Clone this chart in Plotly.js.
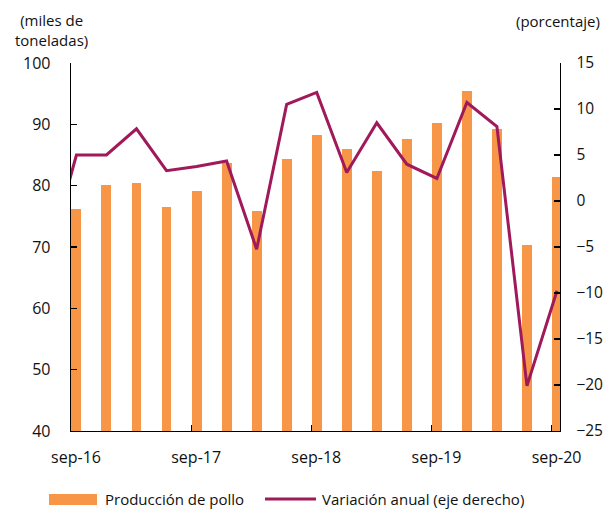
<!DOCTYPE html>
<html>
<head>
<meta charset="utf-8">
<script src="https://cdn.plot.ly/plotly-3.0.1.min.js"></script>
<style>html,body{margin:0;padding:0;background:#fff;}#chart{width:605px;height:512px;}</style>
</head>
<body>
<div id="chart"></div>
<script>
// Quarterly periods (jun-16 only feeds the line segment clipped at the left axis)
const periods = ['jun-16','sep-16','dic-16','mar-17','jun-17','sep-17','dic-17','mar-18','jun-18','sep-18','dic-18','mar-19','jun-19','sep-19','dic-19','mar-20','jun-20','sep-20'];
// Producción de pollo (miles de toneladas)
const produccion = [null, 76.2, 80.1, 80.4, 76.5, 79.1, 83.7, 75.9, 84.3, 88.3, 86.0, 82.4, 87.6, 90.2, 95.4, 89.2, 70.3, 81.4];
// Variación anual (porcentaje, eje derecho)
const variacion = [-6.9, 5.0, 5.0, 7.85, 3.3, 3.75, 4.35, -5.25, 10.5, 11.8, 3.1, 8.5, 4.0, 2.45, 10.7, 8.1, -20.1, -9.75];
const tickLabels = ['sep-16','sep-17','sep-18','sep-19','sep-20'];

const xs = periods.map((_, i) => i - 1);
const tickIdx = tickLabels.map(t => periods.indexOf(t) - 1);
const off = 0.18;

const txt = '#111111';
const font = {family: 'Open Sans, sans-serif', size: 15, color: txt};
const tfont = {family: 'Open Sans, sans-serif', size: 16, color: txt};
const rfont = {family: 'Open Sans, sans-serif', size: 15.5, color: txt};
const orange = '#F79646';
const plum = '#A0195A';

const traces = [
  {type: 'bar', x: xs, y: produccion, width: 0.33, marker: {color: orange},
   name: 'Producción de pollo', showlegend: false, hoverinfo: 'skip'},
  {type: 'scatter', mode: 'lines', x: xs, y: variacion, yaxis: 'y2',
   line: {color: plum, width: 3}, name: 'Variación anual (eje derecho)', showlegend: false}
];

// paper helpers for the legend placed under the plot
const L = 71, R = 560, T = 63, B = 431;
const px = v => (v - L) / (R - L);
const py = v => (B - v) / (B - T);

const layout = {
  width: 605, height: 512,
  margin: {l: L, r: 605 - R, t: T, b: 512 - B},
  paper_bgcolor: '#fff', plot_bgcolor: '#fff',
  font: font,
  showlegend: false,
  bargap: 0,
  xaxis: {
    range: [-off, 16.1], showgrid: false, zeroline: false,
    showline: true, linecolor: '#000', linewidth: 1.3,
    tickmode: 'array', tickvals: tickIdx.map(v => v - off), ticktext: tickLabels,
    ticks: 'inside', ticklen: 6, tickcolor: '#000', tickwidth: 1.3,
    ticklabelshift: 5, ticklabelstandoff: 11, tickfont: tfont
  },
  yaxis: {
    range: [40, 100], dtick: 10, showgrid: false, zeroline: false,
    showline: true, linecolor: '#000', linewidth: 1.3,
    ticks: 'inside', ticklen: 6, tickcolor: '#000', tickwidth: 1.3,
    ticklabelstandoff: 16, tickfont: tfont
  },
  yaxis2: {
    range: [-25, 15], dtick: 5, overlaying: 'y', side: 'right',
    showgrid: false, zeroline: false,
    showline: true, linecolor: '#000', linewidth: 1.3,
    ticks: 'inside', ticklen: 6, tickcolor: '#000', tickwidth: 1.3,
    ticklabelstandoff: 12, tickfont: rfont
  },
  shapes: [
    {type: 'rect', xref: 'paper', yref: 'paper', x0: px(49), x1: px(97), y0: py(505), y1: py(494),
     fillcolor: orange, line: {width: 0}},
    {type: 'line', xref: 'paper', yref: 'paper', x0: px(265), x1: px(316), y0: py(499), y1: py(499),
     line: {color: plum, width: 3}}
  ],
  annotations: [
    {xref: 'paper', yref: 'paper', x: px(103), y: py(499), xanchor: 'left', yanchor: 'middle',
     text: 'Producción de pollo', showarrow: false, font: font},
    {xref: 'paper', yref: 'paper', x: px(320), y: py(499), xanchor: 'left', yanchor: 'middle',
     text: 'Variación anual (eje derecho)', showarrow: false, font: font},
    {xref: 'paper', yref: 'paper', x: px(51), y: py(30), xanchor: 'center', yanchor: 'middle',
     text: '(miles de<br>toneladas)', showarrow: false, font: font, align: 'center'},
    {xref: 'paper', yref: 'paper', x: px(558), y: py(21), xanchor: 'center', yanchor: 'middle',
     text: '(porcentaje)', showarrow: false, font: font}
  ]
};

Plotly.newPlot('chart', traces, layout, {staticPlot: true, displayModeBar: false});
</script>
</body>
</html>
